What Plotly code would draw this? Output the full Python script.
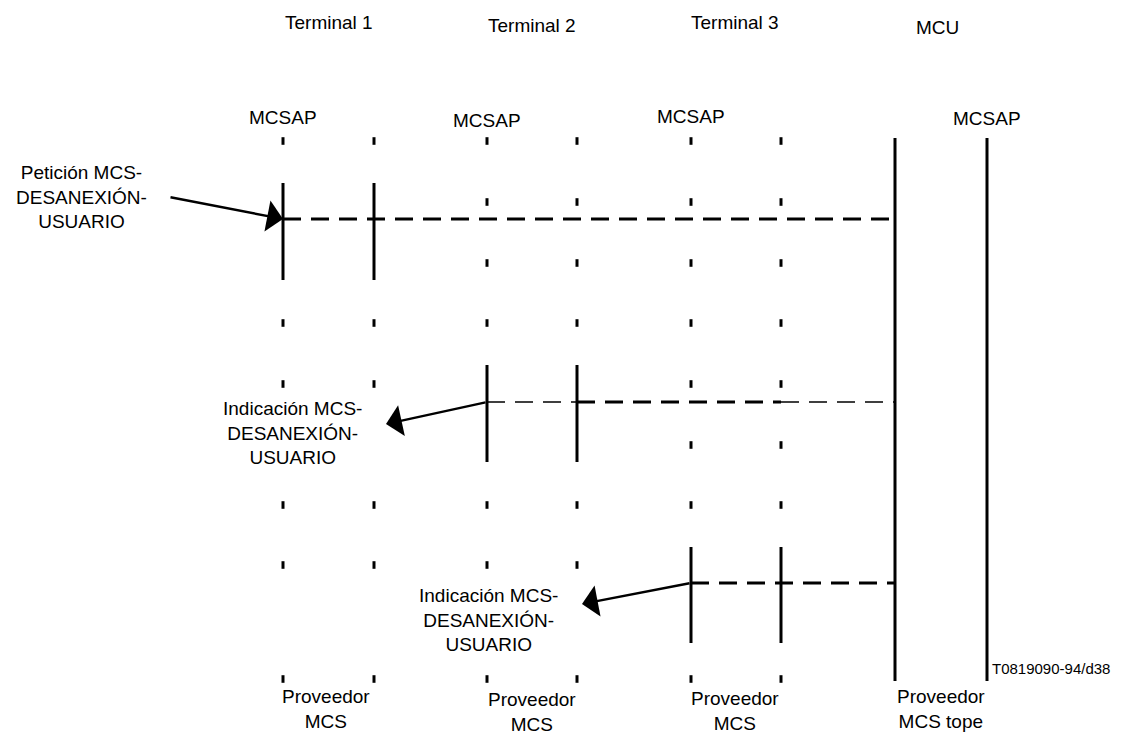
import plotly.graph_objects as go

# ---------------- data ----------------
terminals = ["Terminal 1", "Terminal 2", "Terminal 3"]
terminal_lanes = [(283, 374), (487, 577), (691, 781)]          # MCSAP lane, provider lane
tick_rows = [141, 202, 263, 323, 384, 445, 505, 565, 679]
terminal_tick_rows = [
    [141, 323, 384, 505, 565, 679],
    [141, 202, 263, 323, 505, 565, 679],
    [141, 202, 263, 323, 384, 445, 505, 679],
]
active_spans = [(183, 280), (365, 462), (547, 643)]
message_y = [219, 402, 583]
mcu_lanes = (895, 987)
mcu_span = (138, 681)

primitive_texts = [
    "Petición MCS-<br>DESANEXIÓN-<br>USUARIO",
    "Indicación MCS-<br>DESANEXIÓN-<br>USUARIO",
    "Indicación MCS-<br>DESANEXIÓN-<br>USUARIO",
]
primitive_text_pos = [(81, 197), (292, 433), (488, 620)]
arrow_tail = [(169, 197), (487, 402), (691, 583)]
arrow_tip = [(283, 219), (386, 424), (582, 604)]

header_labels = ["Terminal 1", "Terminal 2", "Terminal 3", "MCU"]
header_pos = [(329, 22), (532, 25), (735, 22), (937, 27)]
sap_label = "MCSAP"
sap_pos = [(283, 117), (487, 120), (691, 116), (987, 118)]
provider_labels = ["Proveedor<br>MCS", "Proveedor<br>MCS", "Proveedor<br>MCS", "Proveedor<br>MCS tope"]
provider_pos = [(326, 709), (532, 712), (735, 711), (941, 709)]
figure_id = "T0819090-94/d38"
figure_id_pos = (1051, 668)

TICK_HALF = 3.8
FONT = "Liberation Sans, Arial, sans-serif"
PAGE_OFFSET = 8   # default body margin of the html page

fig = go.Figure()

# dotted lanes (short ticks)
tx, ty = [], []
for (a, b), rows in zip(terminal_lanes, terminal_tick_rows):
    for x in (a, b):
        for r in rows:
            tx += [x, x, None]
            ty += [r - TICK_HALF, r + TICK_HALF, None]
fig.add_trace(go.Scatter(x=tx, y=ty, mode="lines", line=dict(color="black", width=3),
                         hoverinfo="skip", showlegend=False))

# active (solid) lane segments
sx, sy = [], []
for (a, b), (y0, y1) in zip(terminal_lanes, active_spans):
    for x in (a, b):
        sx += [x, x, None]
        sy += [y0, y1, None]
for x in mcu_lanes:
    sx += [x, x, None]
    sy += [mcu_span[0], mcu_span[1], None]
fig.add_trace(go.Scatter(x=sx, y=sy, mode="lines", line=dict(color="black", width=3),
                         hoverinfo="skip", showlegend=False))

DASH = "18px,10px"
# message 1: full thick
fig.add_trace(go.Scatter(x=[terminal_lanes[0][0], mcu_lanes[0]], y=[message_y[0]] * 2, mode="lines",
                         line=dict(color="black", width=3, dash=DASH),
                         hoverinfo="skip", showlegend=False))
# message 2: thin / thick / thin
fig.add_trace(go.Scatter(x=[terminal_lanes[1][0], terminal_lanes[1][1]], y=[message_y[1]] * 2, mode="lines",
                         line=dict(color="black", width=1.6, dash=DASH),
                         hoverinfo="skip", showlegend=False))
fig.add_trace(go.Scatter(x=[terminal_lanes[1][1], terminal_lanes[2][1]], y=[message_y[1]] * 2, mode="lines",
                         line=dict(color="black", width=3, dash=DASH),
                         hoverinfo="skip", showlegend=False))
fig.add_trace(go.Scatter(x=[terminal_lanes[2][1], mcu_lanes[0]], y=[message_y[1]] * 2, mode="lines",
                         line=dict(color="black", width=1.6, dash=DASH),
                         hoverinfo="skip", showlegend=False))
# message 3
fig.add_trace(go.Scatter(x=[terminal_lanes[2][0], mcu_lanes[0]], y=[message_y[2]] * 2, mode="lines",
                         line=dict(color="black", width=3, dash=DASH),
                         hoverinfo="skip", showlegend=False))

annotations = []
for (hx, hy), (tx0, ty0) in zip(arrow_tip, arrow_tail):
    annotations.append(dict(x=hx, y=hy, ax=tx0, ay=ty0, xref="x", yref="y", axref="x", ayref="y",
                            text="", showarrow=True, arrowhead=1, arrowsize=2.2, arrowwidth=2.4,
                            arrowcolor="black", standoff=0, startstandoff=0))

def txt(s, pos, size=19):
    return dict(x=pos[0], y=pos[1], xref="x", yref="y", text=s, showarrow=False,
                font=dict(family=FONT, size=size, color="black"), align="center",
                xanchor="center", yanchor="middle")

for s, p in zip(primitive_texts, primitive_text_pos):
    annotations.append(txt(s, p))
for s, p in zip(header_labels, header_pos):
    annotations.append(txt(s, p))
for p in sap_pos:
    annotations.append(txt(sap_label, p))
for s, p in zip(provider_labels, provider_pos):
    annotations.append(txt(s, p))
annotations.append(txt(figure_id, figure_id_pos, size=15))

W, H = 1126, 740
fig.update_layout(
    width=W - PAGE_OFFSET, height=H - PAGE_OFFSET,
    margin=dict(l=0, r=0, t=0, b=0),
    paper_bgcolor="white", plot_bgcolor="white",
    xaxis=dict(range=[PAGE_OFFSET, W], visible=False, fixedrange=True),
    yaxis=dict(range=[H, PAGE_OFFSET], visible=False, fixedrange=True),
    annotations=annotations,
    showlegend=False,
)

fig.write_html("out.html")
